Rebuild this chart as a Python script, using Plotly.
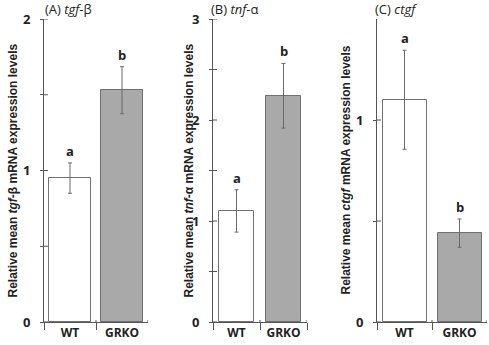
import plotly.graph_objects as go

categories = ["WT", "GRKO"]
tgf_values = [0.95, 1.53]
tgf_errors = [0.10, 0.155]
tnf_values = [1.10, 2.24]
tnf_errors = [0.21, 0.32]
ctgf_values = [1.10, 0.44]
ctgf_errors = [0.245, 0.07]
sig_letters = ["a", "b"]

panel_titles = ["(A) <i>tgf</i>-β", "(B) <i>tnf</i>-α", "(C) <i>ctgf</i>"]
ytitles = [
    "Relative mean <i>tgf</i>-β mRNA expression levels",
    "Relative mean <i>tnf</i>-α mRNA expression levels",
    "Relative mean <i>ctgf</i> mRNA expression levels",
]
y_ranges = [[0, 2], [0, 3], [0, 1.5]]
y_tickvals = [[0, 0.5, 1, 1.5, 2], [0, 0.5, 1, 1.5, 2, 2.5, 3], [0, 0.5, 1]]
y_ticktext = [["0", "", "1", "", "2"], ["0", "", "1", "", "2", "", "3"], ["0", "", "1"]]

W, H = 489, 345
x_domains_px = [(44, 148), (213, 307), (377, 487)]
bar_widths = [0.79, 0.76, 0.80]
ytitle_x_px = [12, 188, 345]
title_x_px = [43, 209, 373]

AXIS = "#555555"
fill_colors = ["white", "#a9a9a9"]

fig = go.Figure()
data = [(tgf_values, tgf_errors), (tnf_values, tnf_errors), (ctgf_values, ctgf_errors)]
shapes = []
annotations = []
for i, (vals, errs) in enumerate(data):
    n = "" if i == 0 else str(i + 1)
    fig.add_trace(go.Bar(
        x=categories, y=vals, width=bar_widths[i],
        marker=dict(color=fill_colors, line=dict(color="#707070", width=1)),
        error_y=dict(type="data", array=errs, color="#6a6a6a", thickness=1, width=2),
        xaxis="x" + n, yaxis="y" + n, showlegend=False,
    ))
    d0, d1 = x_domains_px[i]
    fig.update_layout(**{
        "xaxis" + n: dict(
            domain=[d0 / W, d1 / W], anchor="y" + n, type="category", automargin=False,
            range=[-0.5, 1.5], showline=True, linecolor=AXIS, linewidth=1,
            ticks="outside", tickson="boundaries", ticklen=7, tickcolor=AXIS,
            ticklabelstandoff=0, showgrid=False, zeroline=False,
            tickfont=dict(family="Open Sans", size=12, color="#222222", weight="bold"),
        ),
        "yaxis" + n: dict(
            domain=[23 / H, 1 - 19 / H], anchor="x" + n, range=y_ranges[i], automargin=False,
            showline=True, linecolor=AXIS, linewidth=1,
            tickvals=y_tickvals[i], ticktext=y_ticktext[i],
            ticks="outside", ticklen=3, tickcolor=AXIS, ticklabelstandoff=7,
            showgrid=False, zeroline=False,
            tickfont=dict(family="Open Sans", size=13, color="#222222", weight="bold"),
        ),
    })
    for tv in y_tickvals[i]:
        shapes.append(dict(
            type="line", xref="x" + n + " domain", yref="y" + n,
            xsizemode="pixel", xanchor=0, x0=0, x1=4, y0=tv, y1=tv,
            line=dict(color=AXIS, width=1),
        ))
    for k in (0.5, 1.5):
        shapes.append(dict(
            type="line", xref="x" + n, yref="y" + n + " domain",
            ysizemode="pixel", yanchor=0, y0=0, y1=2, x0=k, x1=k,
            line=dict(color=AXIS, width=1),
        ))
    for j, cat in enumerate(categories):
        annotations.append(dict(
            x=cat, y=vals[j] + errs[j], xref="x" + n, yref="y" + n,
            text=sig_letters[j], showarrow=False, yanchor="bottom", yshift=1,
            font=dict(family="Open Sans", size=13, color="#222222", weight="bold"),
        ))
    annotations.append(dict(
        x=title_x_px[i] / W, y=1.005, xref="paper", yref="paper",
        text=panel_titles[i], showarrow=False, xanchor="left", yanchor="top",
        font=dict(family="Open Sans", size=13, color="#222222"),
    ))
    annotations.append(dict(
        x=ytitle_x_px[i] / W, y=(23 + (H - 19 - 23) / 2) / H, xref="paper", yref="paper",
        text=ytitles[i], showarrow=False, textangle=-90, xanchor="center", yanchor="middle",
        font=dict(family="Liberation Sans", size=12, color="#222222", weight="bold"),
    ))

fig.update_layout(
    width=W, height=H, margin=dict(l=0, r=0, t=0, b=0),
    paper_bgcolor="white", plot_bgcolor="white",
    shapes=shapes, annotations=annotations, bargap=0,
)
fig.write_html("out.html")
